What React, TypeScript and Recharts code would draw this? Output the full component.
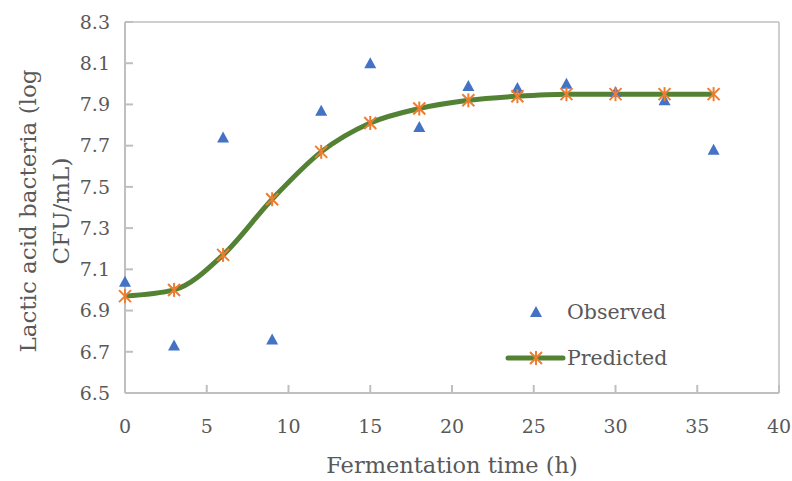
import { ComposedChart, Line, Scatter, XAxis, YAxis, ReferenceLine } from "recharts"

const hours = [0, 3, 6, 9, 12, 15, 18, 21, 24, 27, 30, 33, 36]
const observed = [7.04, 6.73, 7.74, 6.76, 7.87, 8.1, 7.79, 7.99, 7.98, 8.0, 7.96, 7.92, 7.68]
const predicted = [6.97, 7.0, 7.17, 7.44, 7.67, 7.81, 7.88, 7.92, 7.94, 7.95, 7.95, 7.95, 7.95]
const xTicks = [0, 5, 10, 15, 20, 25, 30, 35, 40]
const yTicks = [6.5, 6.7, 6.9, 7.1, 7.3, 7.5, 7.7, 7.9, 8.1, 8.3]

const data = hours.map((t, i) => ({ t, observed: observed[i], predicted: predicted[i] }))

const FONT = "'DejaVu Serif', 'Liberation Serif', serif"
const TEXT = "#595959"
const AXIS = "#BFBFBF"

const Star = ({ cx, cy }: any) => (
  <g stroke="#ED7D31" strokeWidth={2}>
    <line x1={cx - 6} y1={cy - 6} x2={cx + 6} y2={cy + 6} />
    <line x1={cx - 6} y1={cy + 6} x2={cx + 6} y2={cy - 6} />
    <line x1={cx} y1={cy - 7} x2={cx} y2={cy + 7} />
  </g>
)

const Triangle = ({ cx, cy }: any) => (
  <polygon points={`${cx},${cy - 6} ${cx - 6},${cy + 5} ${cx + 6},${cy + 5}`} fill="#4472C4" />
)

const LegendBox = () => (
  <svg width={200} height={80} style={{ overflow: "visible", display: "block" }}>
    <Triangle cx={46} cy={12} />
    <text x={77} y={12} dominantBaseline="central" fontFamily={FONT} fontSize={20.5} fill={TEXT}>
      Observed
    </text>
    <line x1={18} y1={58} x2={73} y2={58} stroke="#548235" strokeWidth={5} strokeLinecap="round" />
    <Star cx={46} cy={58} />
    <text x={77} y={58} dominantBaseline="central" fontFamily={FONT} fontSize={20.5} fill={TEXT}>
      Predicted
    </text>
  </svg>
)

export default function App() {
  return (
    <div style={{ position: "absolute", left: 0, top: 0, width: 792, height: 481, background: "#fff" }}>
      <ComposedChart width={792} height={481} data={data} margin={{ top: 22, right: 13, bottom: 0, left: 0 }}>
        <XAxis
          dataKey="t"
          type="number"
          domain={[0, 40]}
          ticks={xTicks}
          height={88}
          stroke={AXIS}
          strokeWidth={2}
          tickSize={-8}
          tickMargin={35}
          tick={{ fill: TEXT, fontSize: 19, fontFamily: FONT }}
          label={{
            content: () => (
              <text x={452} y={465} textAnchor="middle" dominantBaseline="central" fontFamily={FONT} fontSize={22.5} fill={TEXT}>
                Fermentation time (h)
              </text>
            ),
          }}
        />
        <YAxis
          type="number"
          domain={[6.5, 8.3]}
          ticks={yTicks}
          width={125}
          stroke={AXIS}
          strokeWidth={2}
          tickSize={-8}
          tickMargin={23}
          tickFormatter={(v: number) => v.toFixed(1)}
          tick={{ fill: TEXT, fontSize: 19, fontFamily: FONT }}
          label={{
            content: () => (
              <g fontFamily={FONT} fontSize={23} fill={TEXT}>
                <text x={28} y={211} textAnchor="middle" dominantBaseline="central" transform="rotate(-90 28 211)">
                  Lactic acid bacteria (log
                </text>
                <text x={61} y={211} textAnchor="middle" dominantBaseline="central" transform="rotate(-90 61 211)">
                  CFU/mL)
                </text>
              </g>
            ),
          }}
        />
        <ReferenceLine y={8.3} stroke={AXIS} strokeWidth={1.5} />
        <ReferenceLine x={40} stroke={AXIS} strokeWidth={1.5} />
        <Scatter dataKey="observed" name="Observed" shape={<Triangle />} isAnimationActive={false} />
        <Line
          dataKey="predicted"
          name="Predicted"
          type="monotone"
          stroke="#548235"
          strokeWidth={5}
          dot={(p: any) => <Star key={p.index} cx={p.cx} cy={p.cy} />}
          activeDot={false}
          isAnimationActive={false}
        />
      </ComposedChart>
      <div style={{ position: "absolute", left: 490, top: 300 }}>
        <LegendBox />
      </div>
    </div>
  )
}
